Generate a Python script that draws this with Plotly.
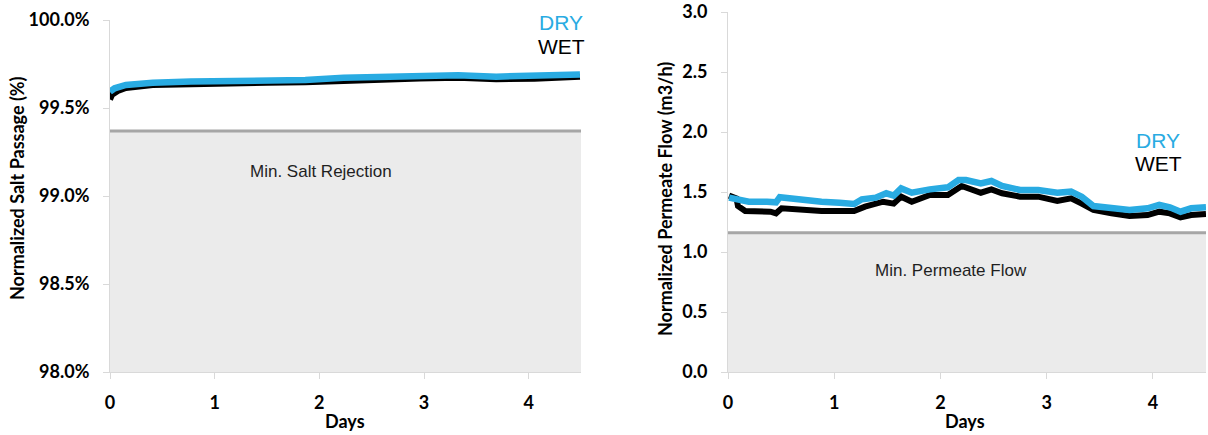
import plotly.graph_objects as go

W, H = 1208, 435

# ---- Salt passage (left panel) ----
salt_days = [0.0, 0.044, 0.152, 0.408, 0.773, 1.137, 1.502, 1.866, 2.231, 2.597,
             2.96, 3.326, 3.69, 4.056, 4.49]
salt_dry = [99.593, 99.612, 99.631, 99.644, 99.650, 99.653, 99.657, 99.659, 99.672,
            99.674, 99.680, 99.686, 99.678, 99.680, 99.691]
salt_wet_days = [0.0, 0.02, 0.075, 0.152, 0.408, 0.773, 1.137, 1.502, 1.866, 2.231,
                 2.597, 2.96, 3.326, 3.69, 4.056, 4.49]
salt_wet = [99.549, 99.575, 99.597, 99.614, 99.630, 99.637, 99.640, 99.644, 99.647,
            99.657, 99.661, 99.667, 99.672, 99.664, 99.666, 99.677]
min_salt_rejection = 99.37

# ---- Permeate flow (right panel) ----
flow_dry_days = [0.01, 0.094, 0.196, 0.367, 0.452, 0.487, 0.572, 0.709, 0.88, 1.05,
                 1.187, 1.26, 1.39, 1.49, 1.56, 1.63, 1.73, 1.9, 2.07, 2.17, 2.24,
                 2.38, 2.48, 2.58, 2.75, 2.92, 3.1, 3.23, 3.33, 3.44, 3.61, 3.78,
                 3.95, 4.06, 4.16, 4.26, 4.36, 4.5]
flow_dry = [1.453, 1.433, 1.419, 1.419, 1.414, 1.456, 1.447, 1.424, 1.419, 1.411,
            1.400, 1.439, 1.453, 1.489, 1.470, 1.530, 1.494, 1.522, 1.539, 1.600,
            1.600, 1.572, 1.592, 1.550, 1.517, 1.517, 1.494, 1.503, 1.461, 1.383,
            1.364, 1.350, 1.364, 1.392, 1.372, 1.336, 1.364, 1.372]
flow_wet_days = [0.01, 0.08, 0.094, 0.162, 0.4, 0.452, 0.505, 0.709, 0.88, 1.187,
                 1.29, 1.46, 1.56, 1.63, 1.73, 1.9, 2.07, 2.2, 2.38, 2.48, 2.58,
                 2.75, 2.92, 3.1, 3.23, 3.33, 3.44, 3.61, 3.78, 3.95, 4.06, 4.16,
                 4.26, 4.36, 4.5]
flow_wet = [1.470, 1.447, 1.383, 1.342, 1.336, 1.322, 1.364, 1.350, 1.342, 1.342,
            1.378, 1.419, 1.403, 1.461, 1.419, 1.475, 1.475, 1.550, 1.494, 1.522,
            1.489, 1.461, 1.461, 1.425, 1.447, 1.403, 1.350, 1.322, 1.300, 1.308,
            1.336, 1.322, 1.289, 1.308, 1.317]
min_permeate_flow = 1.16

x_ticks = [0, 1, 2, 3, 4]
band_days = [0, 4.5]

BLUE = "#29abe2"
BLACK = "#000000"
AXIS_GREY = "#d9d9d9"
BAND_FILL = "#ebebeb"
BAND_LINE = "#a6a6a6"
TICK_FONT = dict(family="Lato", size=18, color="#000000", weight="bold")
TITLE_FONT = dict(family="Lato", size=18, color="#000000", weight="bold")
LABEL_FONT = dict(family="Liberation Sans", size=17, color="#1f1f1f")
LEGEND_FONT = "Liberation Sans"


def px(x):
    return x / W


def py(y):
    return 1 - y / H


fig = go.Figure()

# Left panel: minimum band, then WET, then DRY
fig.add_trace(go.Scatter(x=band_days, y=[min_salt_rejection] * 2, mode="lines",
                         fill="tozeroy", fillcolor=BAND_FILL,
                         line=dict(color=BAND_LINE, width=3),
                         xaxis="x", yaxis="y", hoverinfo="skip"))
fig.add_trace(go.Scatter(x=salt_wet_days, y=salt_wet, mode="lines",
                         line=dict(color=BLACK, width=6),
                         xaxis="x", yaxis="y", name="WET"))
fig.add_trace(go.Scatter(x=salt_days, y=salt_dry, mode="lines",
                         line=dict(color=BLUE, width=6.5),
                         xaxis="x", yaxis="y", name="DRY"))

# Right panel
fig.add_trace(go.Scatter(x=band_days, y=[min_permeate_flow] * 2, mode="lines",
                         fill="tozeroy", fillcolor=BAND_FILL,
                         line=dict(color=BAND_LINE, width=3),
                         xaxis="x2", yaxis="y2", hoverinfo="skip"))
fig.add_trace(go.Scatter(x=flow_wet_days, y=flow_wet, mode="lines",
                         line=dict(color=BLACK, width=6),
                         xaxis="x2", yaxis="y2", name="WET"))
fig.add_trace(go.Scatter(x=flow_dry_days, y=flow_dry, mode="lines",
                         line=dict(color=BLUE, width=6.5),
                         xaxis="x2", yaxis="y2", name="DRY"))

axis_common = dict(showline=True, linecolor=AXIS_GREY, linewidth=1,
                   ticks="outside", ticklen=6, tickcolor=AXIS_GREY,
                   showgrid=False, zeroline=False, tickfont=TICK_FONT,
                   automargin=False)

fig.update_layout(
    width=W, height=H,
    margin=dict(l=0, r=0, t=0, b=0),
    paper_bgcolor="white", plot_bgcolor="white",
    showlegend=False,
    xaxis=dict(domain=[px(110), px(581)], range=[0, 4.5], tickvals=x_ticks,
               anchor="y", ticklabelstandoff=8, **axis_common),
    yaxis=dict(domain=[py(372), py(20)], range=[98, 100], dtick=0.5,
               tickformat=".1f", ticksuffix="%", anchor="x",
               ticklabelstandoff=10, **axis_common),
    xaxis2=dict(domain=[px(728), px(1206)], range=[0, 4.5], tickvals=x_ticks,
                anchor="y2", ticklabelstandoff=8, **axis_common),
    yaxis2=dict(domain=[py(372), py(12)], range=[0, 3], dtick=0.5,
                tickformat=".1f", anchor="x2", ticklabelstandoff=10,
                **axis_common),
)


def note(text, x, y, font, xref="paper", yref="paper", angle=0):
    return dict(text=text, x=x, y=y, xref=xref, yref=yref, showarrow=False,
                xanchor="center", yanchor="middle", textangle=angle, font=font)


annotations = [
    note("Min. Salt Rejection", 2.02, 99.14, LABEL_FONT, "x", "y"),
    note("Min. Permeate Flow", 2.10, 0.843, LABEL_FONT, "x2", "y2"),
    # series labels
    note("DRY", px(561), py(22), dict(family=LEGEND_FONT, size=21, color=BLUE)),
    note("WET", px(561), py(47), dict(family=LEGEND_FONT, size=21, color=BLACK)),
    note("DRY", px(1158), py(140), dict(family=LEGEND_FONT, size=21, color=BLUE)),
    note("WET", px(1158), py(163), dict(family=LEGEND_FONT, size=21, color=BLACK)),
    # axis titles
    note("Days", px(345), py(421), TITLE_FONT),
    note("Days", px(965), py(421), TITLE_FONT),
    note("Normalized Salt Passage (%)", px(17), py(188), TITLE_FONT, angle=-90),
    note("Normalized Permeate Flow (m3/h)", px(665), py(199), TITLE_FONT, angle=-90),
]
fig.update_layout(annotations=annotations)

fig.write_html("out.html")
